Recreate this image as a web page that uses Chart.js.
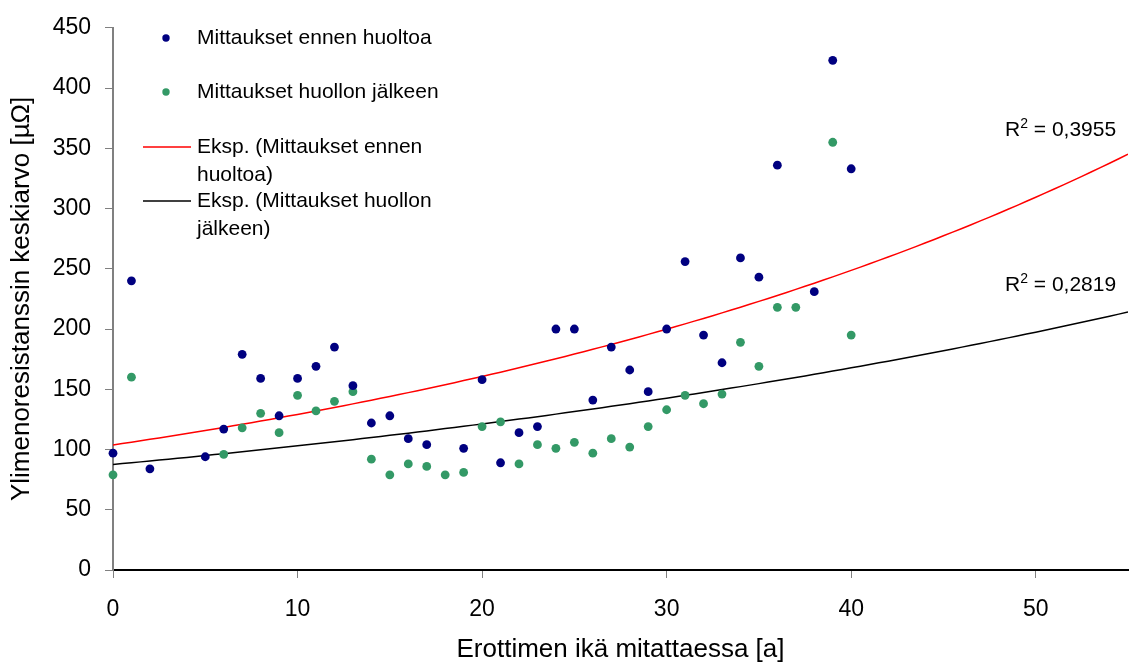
<!DOCTYPE html>
<html>
<head>
<meta charset="utf-8">
<script src="https://cdn.jsdelivr.net/npm/chart.js@4.4.1/dist/chart.umd.min.js"></script>
<style>
  body { margin:0; background:#ffffff; }
  #wrap { width:1144px; height:668px; }
</style>
</head>
<body>
<div id="wrap"><canvas id="chart" width="1144" height="668"></canvas></div>
<script>
// erottimen ikä [a] ja ylimenoresistanssin keskiarvo [µΩ]
const ageBefore = [0,1,2,5,6,7,8,9,10,11,12,13,14,15,16,17,19,
  20,21,22,23,24,25,26,27,28,29,30,31,32,33,34,35,36,38,39,40];
const resBefore = [97,240,84,94,117,179,159,128,159,169,185,153,122,128,109,104,101,
  158,89,114,119,200,200,141,185,166,148,200,256,195,172,259,243,336,231,423,333];

const ageAfter = [0,1,6,7,8,9,10,11,12,13,14,15,16,17,18,19,
  20,21,22,23,24,25,26,27,28,29,30,31,32,33,34,35,36,37,39,40];
const resAfter = [79,160,96,118,130,114,145,132,140,148,92,79,88,86,79,81,
  119,123,88,104,101,106,97,109,102,119,133,145,138,146,189,169,218,218,355,195];

const xTicks = [0,10,20,30,40,50];
const xMax = 55;
const yMax = 450;
const r2Before = "0,3955";
const r2After = "0,2819";

const FONT = '"Liberation Sans", Arial, sans-serif';
const BLUE = "#000080";
const GREEN = "#339966";

// Excel-style exponential trendline: least squares on ln(y)
function expFit(xs, ys) {
  const n = xs.length;
  let sx = 0, sy = 0, sxx = 0, sxy = 0;
  xs.forEach((x, i) => {
    const ly = Math.log(ys[i]);
    sx += x; sy += ly; sxx += x * x; sxy += x * ly;
  });
  const b = (n * sxy - sx * sy) / (n * sxx - sx * sx);
  const a = Math.exp((sy - b * sx) / n);
  return x => a * Math.exp(b * x);
}

function trendPoints(fn) {
  const pts = [];
  for (let x = 0; x <= xMax; x += 0.5) pts.push({x: x, y: fn(x)});
  return pts;
}

const toPoints = (xs, ys) => xs.map((x, i) => ({x: x, y: ys[i]}));

// legend inside the plot + R² texts
const overlay = {
  id: "overlay",
  afterDraw(chart) {
    const ctx = chart.ctx;
    ctx.save();
    ctx.font = "21px " + FONT;
    ctx.textBaseline = "middle";
    ctx.textAlign = "left";

    ctx.fillStyle = BLUE;
    ctx.beginPath(); ctx.arc(166, 38, 3.7, 0, Math.PI * 2); ctx.fill();
    ctx.fillStyle = GREEN;
    ctx.beginPath(); ctx.arc(166, 92, 3.7, 0, Math.PI * 2); ctx.fill();

    ctx.lineWidth = 1.5;
    ctx.strokeStyle = "#ff0000";
    ctx.beginPath(); ctx.moveTo(143, 147); ctx.lineTo(191, 147); ctx.stroke();
    ctx.strokeStyle = "#000";
    ctx.beginPath(); ctx.moveTo(143, 201); ctx.lineTo(191, 201); ctx.stroke();

    ctx.fillStyle = "#000";
    ctx.fillText("Mittaukset ennen huoltoa", 197, 38);
    ctx.fillText("Mittaukset huollon jälkeen", 197, 92);
    ctx.fillText("Eksp. (Mittaukset ennen", 197, 147);
    ctx.fillText("huoltoa)", 197, 175);
    ctx.fillText("Eksp. (Mittaukset huollon", 197, 201);
    ctx.fillText("jälkeen)", 197, 229);

    ctx.textBaseline = "alphabetic";
    [[r2Before, 136], [r2After, 291]].forEach(([val, y]) => {
      let x = 1005;
      ctx.font = "21px " + FONT;
      ctx.fillText("R", x, y);
      x += ctx.measureText("R").width;
      ctx.font = "14px " + FONT;
      ctx.fillText("2", x, y - 8);
      x += ctx.measureText("2").width;
      ctx.font = "21px " + FONT;
      ctx.fillText(" = " + val, x, y);
    });
    ctx.restore();
  }
};

new Chart(document.getElementById("chart"), {
  type: "scatter",
  data: {
    datasets: [
      {
        label: "Mittaukset ennen huoltoa",
        data: toPoints(ageBefore, resBefore),
        backgroundColor: BLUE,
        pointRadius: 4.4,
        pointBorderWidth: 0,
        clip: false
      },
      {
        label: "Mittaukset huollon jälkeen",
        data: toPoints(ageAfter, resAfter),
        backgroundColor: GREEN,
        pointRadius: 4.4,
        pointBorderWidth: 0,
        clip: false
      },
      {
        label: "Eksp. (Mittaukset ennen huoltoa)",
        data: trendPoints(expFit(ageBefore, resBefore)),
        showLine: true,
        borderColor: "#ff0000",
        borderWidth: 1.5,
        pointRadius: 0
      },
      {
        label: "Eksp. (Mittaukset huollon jälkeen)",
        data: trendPoints(expFit(ageAfter, resAfter)),
        showLine: true,
        borderColor: "#000000",
        borderWidth: 1.5,
        pointRadius: 0
      }
    ]
  },
  options: {
    responsive: false,
    animation: false,
    layout: { padding: { top: 20, right: 16, left: 0, bottom: 0 } },
    plugins: {
      legend: { display: false },
      tooltip: { enabled: false }
    },
    scales: {
      x: {
        type: "linear",
        min: 0,
        max: xMax,
        afterBuildTicks: scale => { scale.ticks = xTicks.map(v => ({value: v})); },
        afterFit: scale => { scale.height = 98; },
        border: { color: "#000", width: 2 },
        grid: { drawOnChartArea: false, tickLength: 8, tickColor: "#808080", tickWidth: 1 },
        ticks: { color: "#000", padding: 18, maxRotation: 0, font: { family: FONT, size: 23 } },
        title: {
          display: true,
          text: "Erottimen ikä mitattaessa [a]",
          color: "#000",
          font: { family: FONT, size: 26 },
          padding: { top: 0, bottom: 3 }
        }
      },
      y: {
        min: 0,
        max: yMax,
        afterFit: scale => { scale.width = 113; },
        border: { color: "#808080", width: 2 },
        grid: { drawOnChartArea: false, tickLength: 8, tickColor: "#808080", tickWidth: 1 },
        ticks: { stepSize: 50, color: "#000", padding: 14, font: { family: FONT, size: 23 } },
        title: {
          display: true,
          text: "Ylimenoresistanssin keskiarvo [µΩ]",
          color: "#000",
          font: { family: FONT, size: 26 },
          padding: { top: 6, bottom: 0 }
        }
      }
    }
  },
  plugins: [overlay]
});
</script>
</body>
</html>
